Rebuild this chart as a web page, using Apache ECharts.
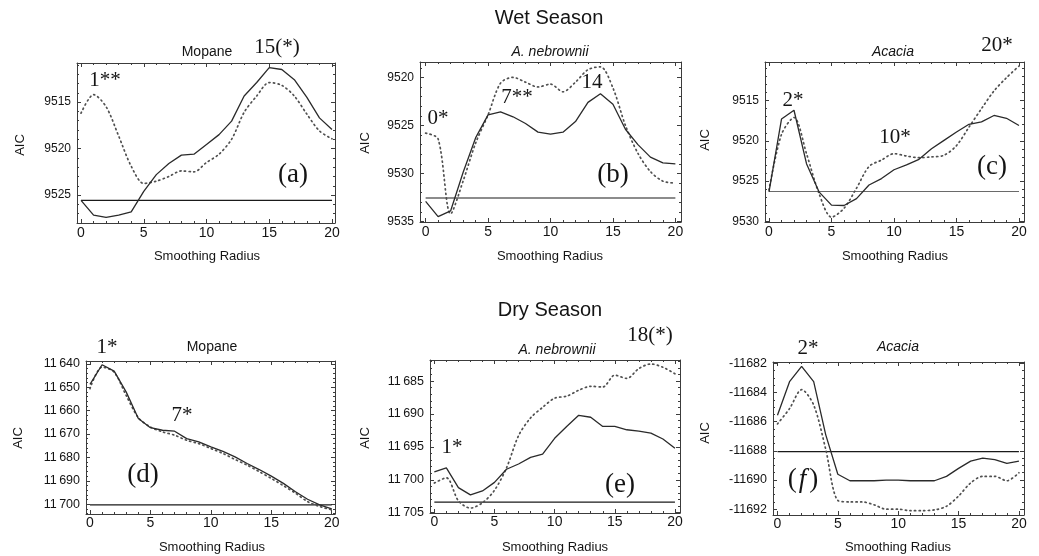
<!DOCTYPE html>
<html>
<head>
<meta charset="utf-8">
<script src="https://cdn.jsdelivr.net/npm/echarts@6/dist/echarts.min.js"></script>
<style>
  html, body { margin: 0; background: #fff; }
  #chart { width: 1039px; height: 556px; }
</style>
</head>
<body>
<div id="chart"></div>
<script>
// smoothing radius 0..20
const radius = [0, 1, 2, 3, 4, 5, 6, 7, 8, 9, 10, 11, 12, 13, 14, 15, 16, 17, 18, 19, 20];
const radiusTicks = [0, 5, 10, 15, 20];

// wet season
const wetMopaneSolid = [9525.57, 9527.15, 9527.4, 9527.15, 9526.8, 9524.6, 9522.8, 9521.6, 9520.7, 9520.6, 9519.55, 9518.5, 9517.05, 9514.35, 9512.9, 9511.3, 9511.5, 9512.6, 9514.5, 9516.7, 9517.95];
const wetMopaneDotted = [9516.2, 9514.2, 9515.5, 9518.65, 9521.9, 9523.75, 9523.5, 9523.0, 9522.4, 9522.5, 9521.5, 9520.6, 9519.0, 9516.1, 9514.35, 9512.9, 9513.2, 9514.35, 9516.3, 9518.1, 9518.95];
const wetMopaneBaseline = 9525.57;
const wetMopaneTicks = [9515, 9520, 9525];

const wetNebSolid = [9532.9, 9534.5, 9533.9, 9529.9, 9526.3, 9523.9, 9523.6, 9524.1, 9524.8, 9525.7, 9525.9, 9525.7, 9524.6, 9522.6, 9521.7, 9522.8, 9525.4, 9527.0, 9528.3, 9528.9, 9529.0];
const wetNebDotted = [9525.8, 9526.4, 9534.2, 9530.8, 9526.85, 9523.9, 9520.6, 9520.0, 9520.5, 9521.0, 9520.7, 9521.5, 9520.5, 9519.2, 9518.9, 9521.1, 9525.0, 9527.9, 9529.8, 9530.8, 9531.0];
const wetNebBaseline = 9532.55;
const wetNebTicks = [9520, 9525, 9530, 9535];

const wetAcaciaSolid = [9526.35, 9517.3, 9516.2, 9522.85, 9526.35, 9528.0, 9528.05, 9527.2, 9525.5, 9524.7, 9523.6, 9523.0, 9522.3, 9521.0, 9519.95, 9518.9, 9517.95, 9517.65, 9516.85, 9517.2, 9518.1];
const wetAcaciaDotted = [9526.1, 9519.2, 9517.1, 9521.6, 9526.55, 9529.5, 9528.4, 9525.9, 9523.2, 9522.4, 9521.6, 9521.9, 9522.1, 9522.0, 9521.8, 9520.6, 9518.3, 9516.0, 9513.8, 9512.15, 9510.7];
const wetAcaciaBaseline = 9526.3;
const wetAcaciaTicks = [9515, 9520, 9525, 9530];

// dry season
const dryMopaneSolid = [11648.8, 11640.4, 11643.1, 11652.1, 11663.4, 11667.3, 11668.4, 11668.8, 11672.0, 11673.4, 11675.5, 11677.4, 11679.8, 11682.6, 11685.2, 11688.0, 11691.1, 11694.7, 11697.9, 11700.3, 11702.0];
const dryMopaneDotted = [11650.6, 11641.4, 11643.6, 11653.6, 11663.0, 11667.0, 11669.1, 11670.5, 11672.7, 11674.1, 11676.2, 11678.3, 11680.9, 11683.3, 11686.1, 11689.0, 11692.1, 11695.3, 11698.9, 11701.0, 11702.4];
const dryMopaneBaseline = 11700.3;
const dryMopaneTicks = [11640, 11650, 11660, 11670, 11680, 11690, 11700];

const dryNebSolid = [11698.8, 11698.2, 11701.2, 11702.3, 11701.7, 11700.4, 11698.4, 11697.6, 11696.6, 11696.1, 11693.7, 11691.9, 11690.2, 11690.5, 11691.9, 11691.9, 11692.4, 11692.6, 11692.9, 11693.8, 11695.2];
const dryNebDotted = [11700.5, 11699.7, 11703.2, 11704.3, 11703.5, 11701.6, 11698.2, 11693.3, 11690.6, 11689.0, 11687.6, 11687.3, 11686.4, 11685.8, 11685.9, 11684.1, 11684.6, 11683.1, 11682.4, 11682.9, 11683.9];
const dryNebBaseline = 11703.4;
const dryNebTicks = [11685, 11690, 11695, 11700, 11705];

const dryAcaciaSolid = [-11685.55, -11683.25, -11682.2, -11683.25, -11686.9, -11689.6, -11690.05, -11690.05, -11690.05, -11690.0, -11690.0, -11690.05, -11690.05, -11690.05, -11689.75, -11689.2, -11688.7, -11688.5, -11688.6, -11688.85, -11688.7];
const dryAcaciaDotted = [-11686.15, -11685.1, -11683.8, -11684.85, -11687.9, -11691.4, -11691.5, -11691.5, -11691.7, -11692.0, -11692.0, -11692.1, -11692.1, -11692.05, -11691.8, -11691.1, -11690.2, -11689.75, -11689.75, -11690.05, -11689.5];
const dryAcaciaBaseline = -11688.05;
const dryAcaciaTicks = [-11692, -11690, -11688, -11686, -11684, -11682];

const frameColor = '#3c3c3c';
const textColor = '#141414';
const sans = '"Liberation Sans", Arial, sans-serif';
const serif = '"Liberation Serif", "Times New Roman", serif';

function steps(a, b, s) {
  const out = [];
  for (let v = a; v <= b + 1e-9; v += s) out.push(Math.round(v * 100) / 100);
  return out;
}

const thin = v => String(v).replace(/^(-?\d{2})(\d{3})$/, '$1\u2009$2');

// layout of the six panels
const panels = [
  { solid: wetMopaneSolid, dotted: wetMopaneDotted, base: wetMopaneBaseline, baseColor: '#1a1a1a',
    box: [77, 63, 258, 160], x: [-0.32, 20.24], y: [9510.8, 9528], inverse: true,
    ticks: wetMopaneTicks, minor: steps(9511, 9528, 1), fmt: String, xMargin: 3, fs: 12 },
  { solid: wetNebSolid, dotted: wetNebDotted, base: wetNebBaseline, baseColor: '#1a1a1a',
    box: [420, 62, 261, 160], x: [-0.45, 20.45], y: [9518.4, 9535.05], inverse: true,
    ticks: wetNebTicks, minor: steps(9519, 9535, 1), fmt: String, xMargin: 3, fs: 12 },
  { solid: wetAcaciaSolid, dotted: wetAcaciaDotted, base: wetAcaciaBaseline, baseColor: '#6a6a6a',
    box: [765, 62, 259, 160], x: [-0.32, 20.4], y: [9510.2, 9530.1], inverse: true,
    ticks: wetAcaciaTicks, minor: steps(9511, 9530, 1), fmt: String, xMargin: 3, fs: 12 },
  { solid: dryMopaneSolid, dotted: dryMopaneDotted, base: dryMopaneBaseline, baseColor: '#1a1a1a',
    box: [86, 361, 249, 153], x: [-0.33, 20.27], y: [11638.8, 11704.2], inverse: true,
    ticks: dryMopaneTicks, minor: steps(11640, 11704, 2), fmt: thin, xMargin: 2, fs: 12.5 },
  { solid: dryNebSolid, dotted: dryNebDotted, base: dryNebBaseline, baseColor: '#1a1a1a',
    box: [430, 360, 250, 153], x: [-0.36, 20.42], y: [11681.8, 11705.05], inverse: true,
    ticks: dryNebTicks, minor: steps(11682, 11705, 1), fmt: thin, xMargin: 2, fs: 12.5 },
  { solid: dryAcaciaSolid, dotted: dryAcaciaDotted, base: dryAcaciaBaseline, baseColor: '#1a1a1a',
    box: [773, 362, 251, 153], x: [-0.37, 20.42], y: [-11692.4, -11681.9], inverse: false,
    ticks: dryAcaciaTicks, minor: steps(-11692, -11682, 0.5), fmt: String, xMargin: 2, fs: 12.5 }
];

const grid = [], xAxis = [], yAxis = [], series = [];

panels.forEach((p, gi) => {
  grid.push({ left: p.box[0], top: p.box[1], width: p.box[2], height: p.box[3] });

  const xBase = { type: 'value', gridIndex: gi, min: p.x[0], max: p.x[1], splitLine: { show: false } };
  const yBase = { type: 'value', gridIndex: gi, min: p.y[0], max: p.y[1], inverse: p.inverse, splitLine: { show: false } };
  const line = { show: true, onZero: false, lineStyle: { color: frameColor, width: 1 } };
  const noLine = { show: false, onZero: false };

  const xi = xAxis.length;
  ['bottom', 'top'].forEach(pos => {
    xAxis.push(Object.assign({}, xBase, {
      position: pos, axisLine: line,
      axisTick: { show: true, inside: true, length: 4, customValues: radiusTicks, lineStyle: { color: frameColor } },
      axisLabel: pos === 'bottom'
        ? { show: true, customValues: radiusTicks, margin: p.xMargin, color: textColor, fontSize: 14, fontFamily: sans }
        : { show: false }
    }));
    xAxis.push(Object.assign({}, xBase, {
      position: pos, axisLine: noLine,
      axisTick: { show: true, inside: true, length: 2, customValues: radius, lineStyle: { color: frameColor } },
      axisLabel: { show: false }
    }));
  });

  const yi = yAxis.length;
  ['left', 'right'].forEach(pos => {
    yAxis.push(Object.assign({}, yBase, {
      position: pos, axisLine: line,
      axisTick: { show: true, inside: true, length: 4, customValues: p.ticks, lineStyle: { color: frameColor } },
      axisLabel: pos === 'left'
        ? { show: true, customValues: p.ticks, margin: 6, color: textColor, fontSize: p.fs, fontFamily: sans, formatter: p.fmt }
        : { show: false }
    }));
    yAxis.push(Object.assign({}, yBase, {
      position: pos, axisLine: noLine,
      axisTick: { show: true, inside: true, length: 2, customValues: p.minor, lineStyle: { color: frameColor } },
      axisLabel: { show: false }
    }));
  });

  series.push({
    type: 'line', xAxisIndex: xi, yAxisIndex: yi, symbol: 'none', silent: true,
    data: [[0, p.base], [20, p.base]],
    lineStyle: { color: p.baseColor, width: 1.1 }
  });
  series.push({
    type: 'line', xAxisIndex: xi, yAxisIndex: yi, symbol: 'none', silent: true, smooth: 0.3,
    data: radius.map((r, i) => [r, p.dotted[i]]),
    lineStyle: { color: '#505050', width: 1.7, type: [1.2, 3.4], cap: 'round' }
  });
  series.push({
    type: 'line', xAxisIndex: xi, yAxisIndex: yi, symbol: 'none', silent: true,
    data: radius.map((r, i) => [r, p.solid[i]]),
    lineStyle: { color: '#2a2a2a', width: 1.3 }
  });
});

function txt(text, x, y, font, extra) {
  return Object.assign({
    type: 'text', x: x, y: y, silent: true,
    style: { text: text, font: font, fill: textColor, align: 'center', verticalAlign: 'middle' }
  }, extra || {});
}

const sansHead = '20px ' + sans;
const sansTitle = '14px ' + sans;
const sansItalic = 'italic 14px ' + sans;
const sansAxis = '13px ' + sans;
const note = '21px ' + serif;
const tag = '27px ' + serif;

const graphic = [
  txt('Wet Season', 549, 18, sansHead),
  txt('Dry Season', 550, 310, sansHead),

  txt('Mopane', 207, 52, sansTitle),
  txt('A. nebrownii', 550, 52, sansItalic),
  txt('Acacia', 893, 52, sansItalic),
  txt('Mopane', 212, 347, sansTitle),
  txt('A. nebrownii', 557, 350, sansItalic),
  txt('Acacia', 898, 347, sansItalic),

  txt('15(*)', 277, 47, note),
  txt('1**', 105, 80, note),
  txt('(a)', 293, 175, tag),
  txt('0*', 438, 118, note),
  txt('7**', 517, 97, note),
  txt('14', 592, 82, note),
  txt('(b)', 613, 175, tag),
  txt('20*', 997, 45, note),
  txt('2*', 793, 100, note),
  txt('10*', 895, 137, note),
  txt('(c)', 992, 167, tag),
  txt('1*', 107, 347, note),
  txt('7*', 182, 415, note),
  txt('(d)', 143, 475, tag),
  txt('18(*)', 650, 335, note),
  txt('1*', 452, 447, note),
  txt('(e)', 620, 485, tag),
  txt('2*', 808, 348, note),
  {
    type: 'text', x: 803, y: 480, silent: true,
    style: {
      text: '{n|(}{i|f}{n|)}', align: 'center', verticalAlign: 'middle', fill: textColor,
      rich: {
        n: { font: tag, fill: textColor },
        i: { font: 'italic ' + tag, fill: textColor, padding: [0, 3, 0, 2] }
      }
    }
  },

  txt('Smoothing Radius', 207, 256, sansAxis),
  txt('Smoothing Radius', 550, 256, sansAxis),
  txt('Smoothing Radius', 895, 256, sansAxis),
  txt('Smoothing Radius', 212, 547, sansAxis),
  txt('Smoothing Radius', 555, 547, sansAxis),
  txt('Smoothing Radius', 898, 547, sansAxis),

  txt('AIC', 20, 145, sansAxis, { rotation: Math.PI / 2 }),
  txt('AIC', 365, 143, sansAxis, { rotation: Math.PI / 2 }),
  txt('AIC', 705, 140, sansAxis, { rotation: Math.PI / 2 }),
  txt('AIC', 18, 438, sansAxis, { rotation: Math.PI / 2 }),
  txt('AIC', 365, 438, sansAxis, { rotation: Math.PI / 2 }),
  txt('AIC', 705, 433, sansAxis, { rotation: Math.PI / 2 })
];

const chart = echarts.init(document.getElementById('chart'), null, { renderer: 'canvas' });
chart.setOption({
  animation: false,
  backgroundColor: '#fff',
  grid: grid,
  xAxis: xAxis,
  yAxis: yAxis,
  series: series,
  graphic: graphic
});
</script>
</body>
</html>
